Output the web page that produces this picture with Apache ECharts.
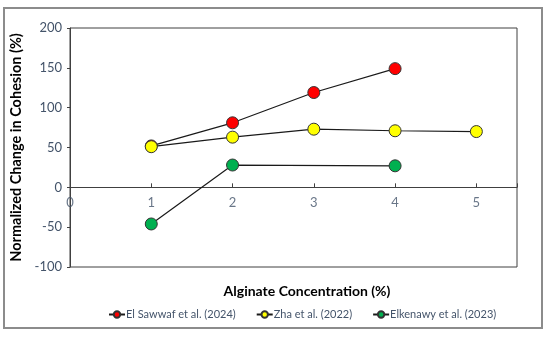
<!DOCTYPE html>
<html><head><meta charset="utf-8">
<script src="https://cdn.jsdelivr.net/npm/echarts@6/dist/echarts.min.js"></script>
<style>html,body{margin:0;padding:0;background:#fff}#c{width:550px;height:337px}</style>
</head><body><div id="c"></div>
<script>
const xTicks = [0, 1, 2, 3, 4, 5];
const yTicks = [-100, -50, 0, 50, 100, 150, 200];
const seriesNames = ['El Sawwaf et al. (2024)', 'Zha et al. (2022)', 'Elkenawy et al. (2023)'];
const elSawwafX = [1, 2, 3, 4];
const elSawwafY = [52, 81, 119, 149];
const zhaX = [1, 2, 3, 4, 5];
const zhaY = [51, 63, 73, 71, 70];
const elkenawyX = [1, 2, 4];
const elkenawyY = [-46, 28, 27];
const colors = ['#ff0000', '#ffff00', '#00b050'];

const pairs = (xs, ys) => xs.map((x, i) => [x, ys[i]]);
const txt = '#44546a';
const font = 'Lato, "Liberation Sans", sans-serif';
const mk = (name, data, color) => ({
  name, type: 'line', data,
  symbol: 'circle', symbolSize: 12,
  lineStyle: { color: '#1a1a1a', width: 1.2 },
  itemStyle: { color, borderColor: '#333', borderWidth: 1 },
  emphasis: { disabled: true }
});
const chart = echarts.init(document.getElementById('c'));
chart.setOption({
  animation: false,
  textStyle: { fontFamily: font },
  graphic: [{ type: 'rect', shape: { x: 4, y: 8, width: 538, height: 320 }, style: { fill: 'none', stroke: '#8c8c8c', lineWidth: 2 } }],
  title: { text: 'Alginate Concentration (%)', left: 302, top: 279, textAlign: 'center',
    textStyle: { fontFamily: font, fontSize: 14, fontWeight: 'bold', color: '#000' } },
  grid: { left: 70, top: 28, width: 447, height: 239, show: true, borderColor: '#404040', borderWidth: 1 },
  legend: { top: 304, left: 103, itemGap: 20, itemWidth: 16, itemHeight: 8,
    textStyle: { color: txt, fontSize: 11, fontFamily: font, padding: [0, 0, 0, -4] },
    data: seriesNames },
  xAxis: { type: 'value', min: 0, max: 5.5, interval: 1,
    axisLine: { onZero: true, lineStyle: { color: '#404040', width: 1 } },
    axisTick: { inside: true, length: 4, lineStyle: { color: '#404040' } },
    axisLabel: { show: false },
    splitLine: { show: false } },
  yAxis: { type: 'value', min: yTicks[0], max: yTicks[yTicks.length - 1], interval: 50,
    name: 'Normalized Change in Cohesion (%)', nameLocation: 'middle', nameGap: 46,
    nameTextStyle: { fontFamily: font, fontSize: 14.5, fontWeight: 'bold', color: '#000' },
    axisLine: { show: true, onZero: false, lineStyle: { color: '#404040' } },
    axisTick: { show: true, length: 3, lineStyle: { color: '#404040' } },
    axisLabel: { color: txt, fontSize: 13, margin: 8 },
    splitLine: { show: false } },
  series: [
    mk(seriesNames[0], pairs(elSawwafX, elSawwafY), colors[0]),
    mk(seriesNames[1], pairs(zhaX, zhaY), colors[1]),
    mk(seriesNames[2], pairs(elkenawyX, elkenawyY), colors[2]),
    { type: 'scatter', name: 'xlabels', data: xTicks.map(x => [x, 0]), symbolSize: 0.01,
      silent: true, z: 1, legendHoverLink: false,
      label: { show: true, position: 'bottom', distance: 9, color: txt, fontSize: 13, fontFamily: font,
        formatter: p => String(p.value[0]) } }
  ]
});
</script></body></html>
